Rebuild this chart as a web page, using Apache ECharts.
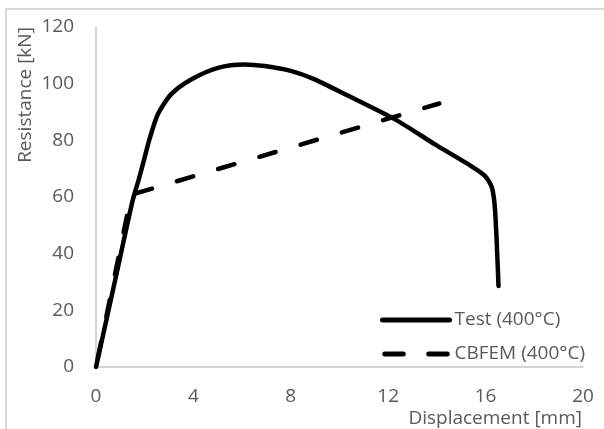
<!DOCTYPE html>
<html>
<head>
<meta charset="utf-8">
<script src="https://cdn.jsdelivr.net/npm/echarts@6/dist/echarts.min.js"></script>
<style>
html,body{margin:0;padding:0;background:#fff;}
#chart{width:604px;height:429px;}
</style>
</head>
<body>
<div id="chart"></div>
<script>
const xTicks = [0, 4, 8, 12, 16, 20];
const yTicks = [0, 20, 40, 60, 80, 100, 120];
const seriesNames = ['Test (400°C)', 'CBFEM (400°C)'];
const xTitle = 'Displacement [mm]';
const yTitle = 'Resistance [kN]';
const testData = [
  [0, 0], [0.78, 30.4], [1.5, 58.6], [1.75, 66], [2.0, 74], [2.2, 80.5], [2.54, 89.2],
  [3.09, 96.3], [3.91, 101.5], [5.01, 105.6], [6.1, 106.8],
  [6.93, 106.2], [8.0, 104.5], [8.98, 101.5], [10.36, 95.7], [12.28, 87.4], [13.92, 78.6],
  [15.3, 71.5], [15.98, 67.4], [16.26, 63.3], [16.39, 55.1], [16.53, 28.6]
];
const cbfemData = [[0, 0], [1.45, 60.8], [14.1, 93]];

const font = 'Open Sans';
const grey = '#595959';
const chart = echarts.init(document.getElementById('chart'));
chart.setOption({
  animation: false,
  backgroundColor: '#fff',
  grid: { left: 96, top: 27, right: 21, bottom: 62 },
  xAxis: {
    type: 'value', min: xTicks[0], max: xTicks[xTicks.length - 1], interval: 4,
    axisLine: { lineStyle: { color: '#c6c6c6', width: 1.5 } },
    axisTick: { show: false },
    splitLine: { show: false },
    axisLabel: { color: grey, fontFamily: font, fontSize: 19, margin: 20 }
  },
  yAxis: {
    type: 'value', min: yTicks[0], max: yTicks[yTicks.length - 1], interval: 20,
    axisLine: { show: true, lineStyle: { color: '#c6c6c6', width: 1.5 } },
    axisTick: { show: false },
    splitLine: { show: false },
    axisLabel: { color: grey, fontFamily: font, fontSize: 19, margin: 22 }
  },
  legend: {
    orient: 'vertical', left: 375, top: 305,
    itemWidth: 67, itemHeight: 14, itemGap: 14,
    itemStyle: { opacity: 0 },
    textStyle: { color: grey, fontFamily: font, fontSize: 19, lineHeight: 20 },
    data: [
      { name: seriesNames[0], lineStyle: { color: '#000', width: 5, cap: 'round' } },
      { name: seriesNames[1], lineStyle: { color: '#000', width: 5, type: [18.5, 25.5], dashOffset: -2.25, cap: 'round' } }
    ]
  },
  graphic: [
    { type: 'rect', silent: true, shape: { x: 6, y: 9, width: 700, height: 600 },
      style: { fill: 'none', stroke: '#d9d9d9', lineWidth: 2 } },
    { type: 'text', x: 26, y: 95, rotation: Math.PI / 2,
      style: { text: yTitle, fill: grey, font: '19px "Open Sans"', textAlign: 'center', textVerticalAlign: 'middle' } },
    { type: 'text', x: 582, y: 419,
      style: { text: xTitle, fill: grey, font: '19px "Open Sans"', textAlign: 'right', textVerticalAlign: 'middle' } }
  ],
  series: [
    { name: seriesNames[0], type: 'line', data: testData, symbol: 'none', smooth: 0.25,
      lineStyle: { color: '#000', width: 4.5, cap: 'round', join: 'round' },
      itemStyle: { color: '#000' }, z: 3 },
    { name: seriesNames[1], type: 'line', data: cbfemData, symbol: 'none',
      lineStyle: { color: '#000', width: 4.5, type: [17, 26], dashOffset: 34.6, cap: 'round' },
      itemStyle: { color: '#000' }, z: 2 }
  ]
});
</script>
</body>
</html>
